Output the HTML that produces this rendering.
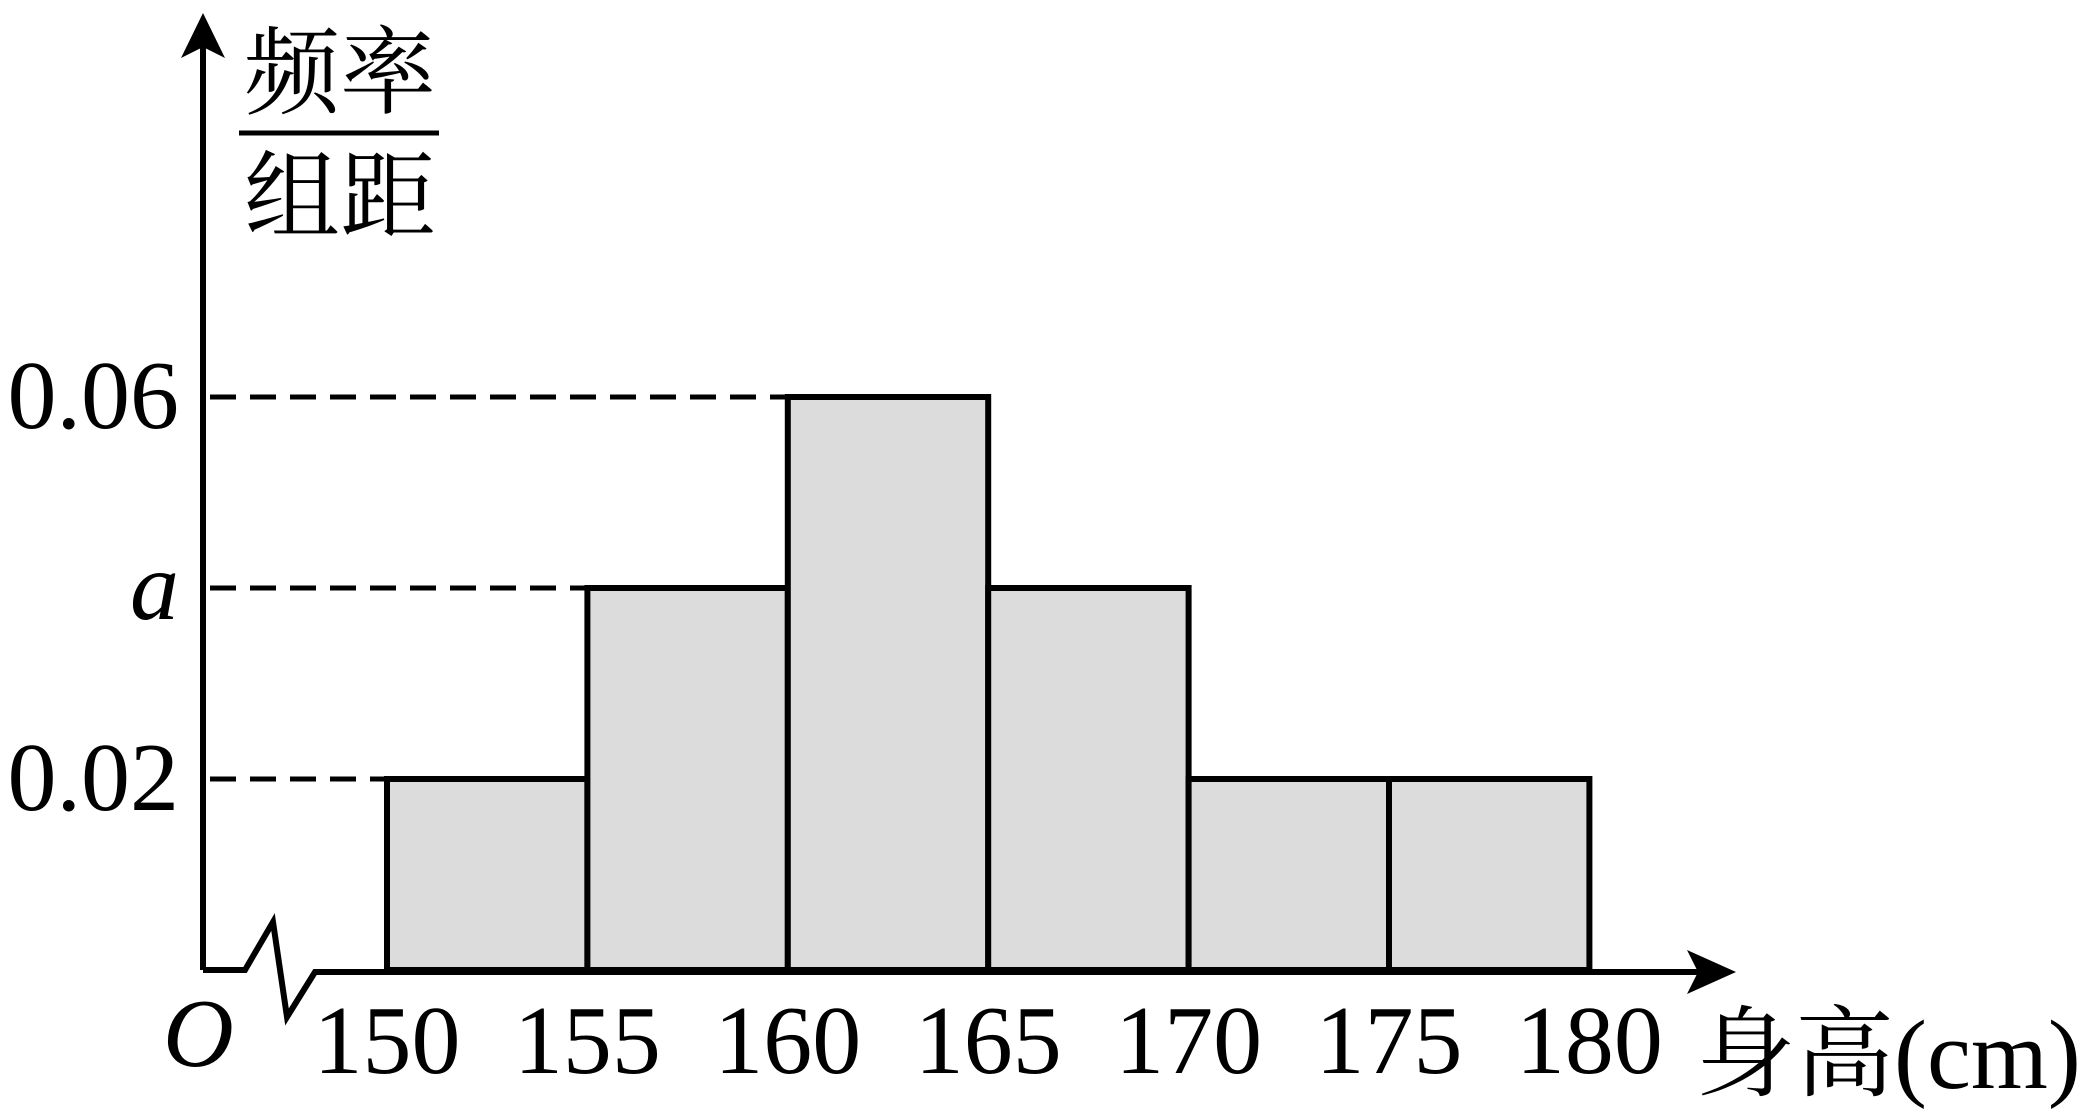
<!DOCTYPE html>
<html><head><meta charset="utf-8"><style>
html,body{margin:0;padding:0;background:#fff;}
svg{display:block;}
text{font-family:"Liberation Serif","Noto Serif CJK SC",serif;fill:#000;}
</style></head><body>
<svg id="chart" width="2086" height="1119" viewBox="0 0 2086 1119" xmlns="http://www.w3.org/2000/svg">
<g id="bars"></g>
<g id="dashes"></g>
<path d="M203 970 L203 40" stroke="#000" stroke-width="6" fill="none"/>
<polygon points="203,13 181,58 203,47 225,58" fill="#000"/>
<path d="M203 970 L245 970 L273 922 L287 1017 L315 972 L1700 972" stroke="#000" stroke-width="6" fill="none" stroke-linejoin="miter"/>
<polygon points="1736,972 1687,950 1698,972 1687,994" fill="#000"/>
<text x="244" y="106" font-size="96">频率</text>
<line x1="239" y1="133" x2="439" y2="133" stroke="#000" stroke-width="5"/>
<text x="244" y="230" font-size="96">组距</text>
<text x="163" y="1066" font-size="98" font-style="italic">O</text>
<text x="1696" y="1088" font-size="99">身高(cm)</text>
<g id="yticks"></g>
<g id="xticks"></g>
</svg>
<script>
const binEdges = [150,155,160,165,170,175,180];
const densities = [0.02,0.04,0.06,0.04,0.02,0.02];
const yTickValues = [0.06,0.04,0.02];
const yTickLabels = ["0.06","a","0.02"];
const xTickLabels = ["150","155","160","165","170","175","180"];

const NS="http://www.w3.org/2000/svg";
function xs(v){return 387+(v-150)*40.08;}
function ys(v){return 970-v*9550;}
const bars=document.getElementById('bars');
for(let i=0;i<densities.length;i++){
  const r=document.createElementNS(NS,'rect');
  const x0=xs(binEdges[i]),x1=xs(binEdges[i+1]),y=ys(densities[i]);
  r.setAttribute('x',x0);r.setAttribute('y',y);
  r.setAttribute('width',x1-x0);r.setAttribute('height',970-y);
  r.setAttribute('fill','#dcdcdc');r.setAttribute('stroke','#000');r.setAttribute('stroke-width','6');
  
  
  bars.appendChild(r);
}
const dashes=document.getElementById('dashes');
const yt=document.getElementById('yticks');
yTickValues.forEach((v,i)=>{
  let idx=densities.findIndex(d=>Math.abs(d-v)<1e-9);
  const xe=xs(binEdges[idx]);
  const l=document.createElementNS(NS,'line');
  l.setAttribute('x1',210);l.setAttribute('x2',xe);
  l.setAttribute('y1',ys(v));l.setAttribute('y2',ys(v));
  l.setAttribute('stroke','#000');l.setAttribute('stroke-width','5');
  l.setAttribute('stroke-dasharray','26 14');
  
  
  dashes.appendChild(l);
  const t=document.createElementNS(NS,'text');
  t.setAttribute('x',179);t.setAttribute('y',ys(v)+31);
  t.setAttribute('text-anchor','end');t.setAttribute('font-size','98');
  if(yTickLabels[i]==='a')t.setAttribute('font-style','italic');
  t.textContent=yTickLabels[i];
  
  
  yt.appendChild(t);
});
const xt=document.getElementById('xticks');
binEdges.forEach((v,i)=>{
  const t=document.createElementNS(NS,'text');
  t.setAttribute('x',xs(v));t.setAttribute('y',1073);
  t.setAttribute('text-anchor','middle');t.setAttribute('font-size','98');
  t.textContent=xTickLabels[i];
  
  
  xt.appendChild(t);
});
</script>
</body></html>
